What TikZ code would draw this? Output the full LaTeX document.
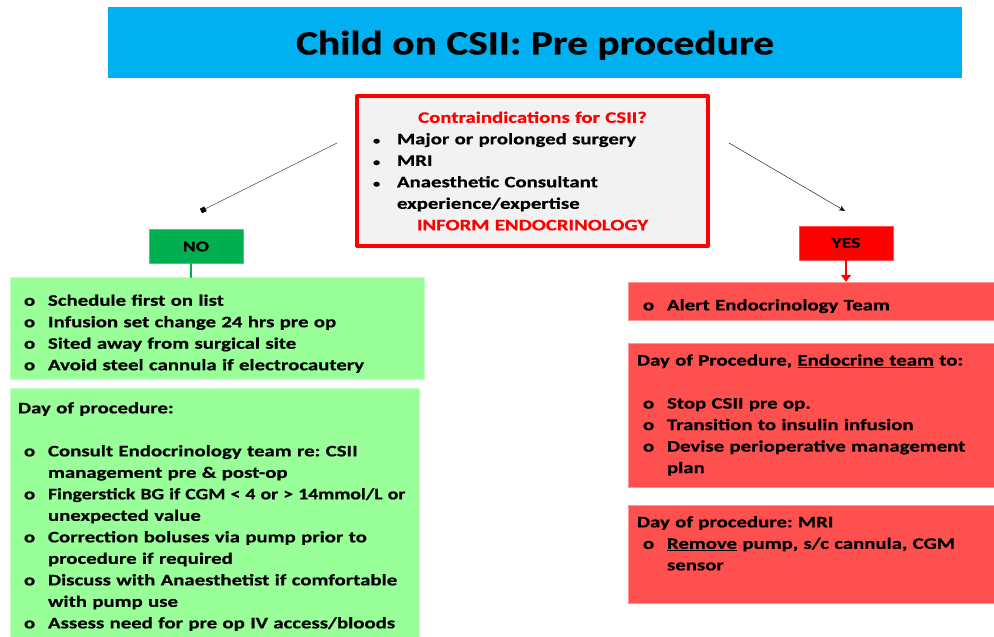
\documentclass[tikz,border=0pt]{standalone}
\usepackage{fontspec}
\usepackage{graphicx}
\setmainfont{Carlito}[FakeStretch=1.3,BoldFeatures={FakeBold=0.6}]
\newfontfamily\titlefont{Carlito}[FakeStretch=1.22,BoldFeatures={FakeBold=0.6}]
\usetikzlibrary{arrows.meta}
\definecolor{titleblue}{HTML}{00B0F0}
\definecolor{boxgray}{HTML}{F2F2F2}
\definecolor{nogreen}{HTML}{00B050}
\definecolor{lightgreen}{HTML}{99FF99}
\definecolor{lightred}{HTML}{FF5050}
\frenchspacing
\newlength{\bulind}
\setlength{\bulind}{30pt}
\newcommand{\oitem}[1]{\par\noindent\hangindent=\bulind\hangafter=1\makebox[\bulind][l]{\hspace{6pt}o}#1\par}
\newcommand{\ditem}[1]{\par\noindent\hangindent=26pt\hangafter=1\makebox[26pt][l]{\hspace{2pt}\fontsize{11}{11}\selectfont\textbullet}#1\par}
\begin{document}
\begin{tikzpicture}[>=stealth,line join=round,line cap=round,x=1pt,y=-1pt,
		txt/.style={font=\fontsize{16}{21.5}\selectfont\bfseries},
		gbox/.style={txt,fill=lightgreen,draw=lightgreen!60!white,align=left,inner xsep=8pt},
		rbox/.style={txt,fill=lightred,draw=lightred!60!white,align=left,inner xsep=9pt},
		tag/.style={font=\fontsize{15}{18}\selectfont\bfseries,minimum width=94,minimum height=34}]
			\path[use as bounding box,clip] (0,0) rectangle (994,637);
			% title and question
			\node[fill=titleblue,minimum width=854,minimum height=71,text depth=0pt,font=\titlefont\fontsize{34}{40}\selectfont\bfseries] (title) at (535,42.5) {Child on CSII: Pre procedure};
			\node[txt,draw=red,line width=4pt,fill=boxgray,minimum width=351,minimum height=150,text width=323,align=left] (contra) at (532.5,171) {%
				\noindent\makebox[\linewidth][c]{\textcolor{red}{Contraindications for CSII?}}
				\ditem{Major or prolonged surgery}
				\ditem{MRI}
				\ditem{Anaesthetic Consultant\newline experience/expertise}
				\noindent\makebox[\linewidth][c]{\textcolor{red}{INFORM ENDOCRINOLOGY}}\par};
			\node[tag,fill=nogreen,draw=nogreen!70!white] (no) at (196,246.5) {NO};
			\node[tag,fill=red,draw=red!70!white] (yes) at (846,243) {YES};
			% NO side
			\node[gbox,minimum width=414,minimum height=102,text width=398] (sched) at (217,328.5) {%
				\oitem{Schedule first on list}
				\oitem{Infusion set change 24 hrs pre op}
				\oitem{Sited away from surgical site}
				\oitem{Avoid steel cannula if electrocautery}};
			\node[gbox,minimum width=409,minimum height=257,text width=393] (dayno) at (214.5,516.5) {%
				\noindent Day of procedure:\par\vspace{\baselineskip}
				\oitem{Consult Endocrinology team re: CSII\newline management pre \& post-op}
				\oitem{\scalebox{0.95}[1]{Fingerstick BG if CGM < 4 or > 14mmol/L or}\newline unexpected value}
				\oitem{Correction boluses via pump prior to\newline procedure if required}
				\oitem{Discuss with Anaesthetist if comfortable\newline with pump use}
				\oitem{Assess need for pre op IV access/bloods}};
			% YES side
			\node[rbox,minimum width=372,minimum height=38,text width=354] (alert) at (814,301) {%
				\oitem{Alert Endocrinology Team}};
			\node[rbox,minimum width=372,minimum height=144,text width=354] (endo) at (814,415) {%
				\noindent Day of Procedure, \underline{Endocrine team} to:\par\vspace{\baselineskip}
				\oitem{Stop CSII pre op.}
				\oitem{Transition to insulin infusion}
				\oitem{\mbox{Devise perioperative management}\newline plan}};
			\node[rbox,minimum width=372,minimum height=98,text width=354] (mri) at (814,554) {%
				\noindent Day of procedure: MRI
				\oitem{\underline{Remove} pump, s/c cannula, CGM\newline sensor}
				\noindent\mbox{}\par};
			% connectors
			\coordinate (noStart) at (337,143);
			\coordinate (noEnd) at (201,211);
			\coordinate (yesStart) at (729,143);
			\coordinate (yesEnd) at (845,211);
			\draw[-{Square[length=5pt,width=5pt]}] (noStart)--(noEnd);
			\draw[-{Stealth[length=6pt,width=5pt]}] (yesStart)--(yesEnd);
			\draw[nogreen,line width=1.5pt] ([xshift=-5pt]no.south)--([xshift=-5pt]no.south |- sched.north);
			\draw[red,line width=1.5pt,-{Triangle[length=7pt,width=10pt]}] (yes.south)--(yes.south |- alert.north);
		\end{tikzpicture}
\end{document}
